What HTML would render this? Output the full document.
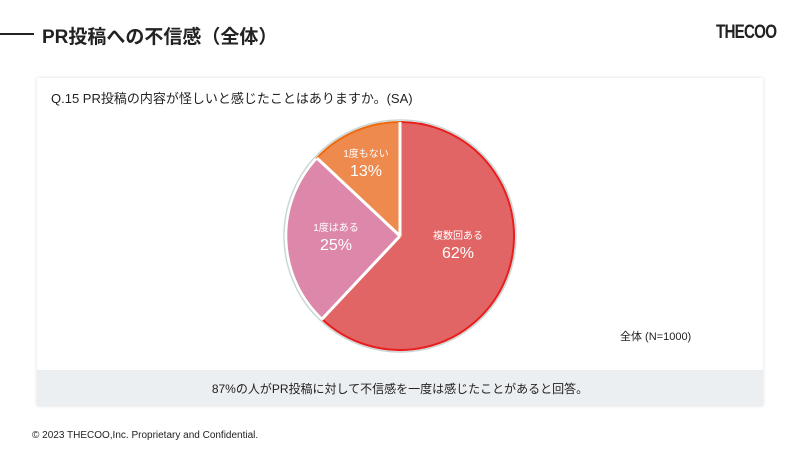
<!DOCTYPE html>
<html><head><meta charset="utf-8"><style>
body{margin:0;width:800px;height:450px;background:#fff;position:relative;overflow:hidden;font-family:"Liberation Sans","Noto Sans CJK JP",sans-serif;color:#222}
.t{position:absolute}
</style></head><body>
<div class="t" style="left:0;top:33px;width:34px;height:2px;background:#222"></div>
<div class="t" style="left:42px;top:22px;font-size:19px;font-weight:bold">PR投稿への不信感（全体）</div>
<div class="t" style="left:716px;top:22px;font-size:19px;font-weight:bold;letter-spacing:-1px;transform:scaleX(0.8);transform-origin:left">THECOO</div>
<div class="t" style="left:37px;top:78px;width:726px;height:328px;background:#fff;box-shadow:0 0 4px rgba(0,0,0,0.12)"></div>
<div class="t" style="left:37px;top:370px;width:726px;height:36px;background:#eceff1"></div>
<div class="t" style="left:51px;top:88px;font-size:13px">Q.15 PR投稿の内容が怪しいと感じたことはありますか。(SA)</div>
<div class="t" style="left:0;top:380px;width:800px;text-align:center;font-size:12px">87%の人がPR投稿に対して不信感を一度は感じたことがあると回答。</div>
<div class="t" style="left:620px;top:328px;font-size:11px">全体 (N=1000)</div>
<div class="t" style="left:32px;top:430px;font-size:10px">© 2023 THECOO,Inc. Proprietary and Confidential.</div>
<svg class="t" style="left:0;top:0" width="800" height="450">
<circle cx="400" cy="236" r="116" fill="none" stroke="#c9d6d6" stroke-width="1.5"/>
<path d="M400,236 L400,122 A114,114 0 1 1 322,319.1 Z" fill="#e26565" stroke="#e81e1e" stroke-width="2"/>
<path d="M400,236 L322,319.1 A114,114 0 0 1 316.9,158 Z" fill="#dd88aa" stroke="#fff" stroke-width="2.5"/>
<path d="M400,236 L316.9,158 A114,114 0 0 1 400,122 Z" fill="#ee8a4e" stroke="#ee6a10" stroke-width="2"/>
<line x1="400" y1="236" x2="322" y2="319.1" stroke="#fff" stroke-width="3"/>
<line x1="400" y1="236" x2="316.9" y2="158" stroke="#fff" stroke-width="3"/>
<line x1="400" y1="236" x2="400" y2="122" stroke="#fff" stroke-width="3"/>
<g fill="#fff" font-family="Liberation Sans,Noto Sans CJK JP,sans-serif" text-anchor="middle">
<text x="366" y="157" font-size="10">1度もない</text>
<text x="366" y="176" font-size="16">13%</text>
<text x="336" y="231" font-size="10">1度はある</text>
<text x="336" y="250" font-size="16">25%</text>
<text x="458" y="239" font-size="10">複数回ある</text>
<text x="458" y="258" font-size="16">62%</text>
</g>
</svg>
</body></html>
